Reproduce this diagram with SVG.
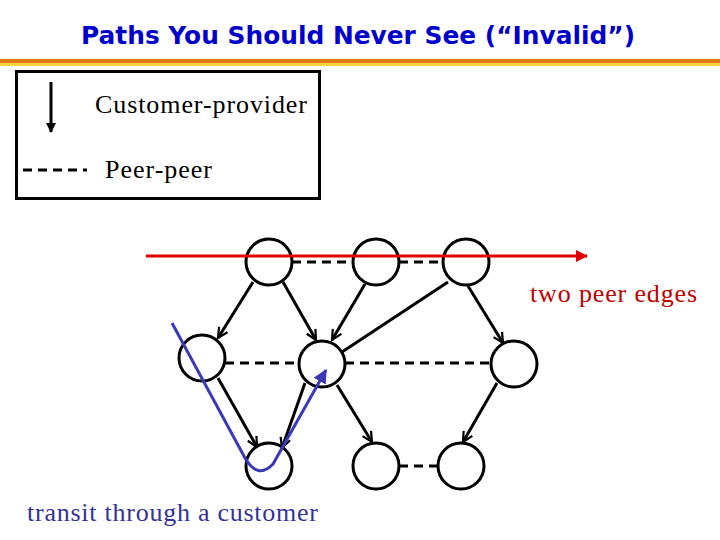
<svg xmlns="http://www.w3.org/2000/svg" width="720" height="540" viewBox="0 0 720 540">
<style>
.node{fill:#fff;stroke:#000;stroke-width:3}
.cp{stroke:#000;stroke-width:3;fill:none;marker-end:url(#open)}
.cpn{stroke:#000;stroke-width:3;fill:none}
.pp{stroke:#000;stroke-width:3;stroke-dasharray:9,6;fill:none}
.t{font-family:"Liberation Serif","Times New Roman",serif;font-size:26px}
</style>
<defs>
<marker id="open" viewBox="0 0 12 12" refX="11" refY="6" markerWidth="12" markerHeight="12" markerUnits="userSpaceOnUse" orient="auto">
<path d="M1,1 L11,6 L1,11" fill="none" stroke="#000" stroke-width="2.2"/>
</marker>
<marker id="solid" viewBox="0 0 10 10" refX="9" refY="5" markerWidth="10" markerHeight="10" markerUnits="userSpaceOnUse" orient="auto">
<path d="M0,0 L10,5 L0,10 Z" fill="#000"/>
</marker>
<marker id="red" viewBox="0 0 12 12" refX="11" refY="6" markerWidth="14" markerHeight="12" markerUnits="userSpaceOnUse" orient="auto">
<path d="M0,0 L12,6 L0,12 Z" fill="#e00000"/>
</marker>
<marker id="blue" viewBox="0 0 12 12" refX="11" refY="6" markerWidth="14" markerHeight="14" markerUnits="userSpaceOnUse" orient="auto">
<path d="M0,0 L12,6 L0,12 Z" fill="#3a3ab8"/>
</marker>
</defs>
<g id="title">
<text x="358" y="44" text-anchor="middle" font-family="'DejaVu Sans',Verdana,sans-serif" font-weight="bold" font-size="24" fill="#0000cc" textLength="554" lengthAdjust="spacingAndGlyphs">Paths You Should Never See (“Invalid”)</text>
<rect x="0" y="59" width="720" height="4" fill="#e07a10"/>
<rect x="0" y="63" width="720" height="3" fill="#ffd040"/>
</g>
<g id="legend">
<rect x="16.5" y="71.5" width="303" height="127" fill="#fff" stroke="#000" stroke-width="3"/>
<line x1="51" y1="82" x2="51" y2="132" stroke="#000" stroke-width="3" marker-end="url(#solid)"/>
<text class="t" x="95" y="113" textLength="212">Customer-provider</text>
<line x1="23" y1="170" x2="87" y2="170" class="pp"/>
<text class="t" x="105" y="178" textLength="107">Peer-peer</text>
</g>
<g id="connectors">
<line class="pp" x1="292" y1="262" x2="353" y2="262"/>
<line class="pp" x1="399" y1="262" x2="443" y2="262"/>
<line class="pp" x1="225" y1="363" x2="300" y2="363"/>
<line class="pp" x1="345" y1="363" x2="492" y2="363"/>
<line class="pp" x1="399" y1="466" x2="438" y2="466"/>
<line class="cp" x1="253" y1="282" x2="218" y2="338"/>
<line class="cp" x1="283" y1="282" x2="316" y2="340"/>
<line class="cp" x1="365" y1="284" x2="332" y2="340"/>
<line class="cpn" x1="448" y1="282" x2="342" y2="352"/>
<line class="cp" x1="468" y1="286" x2="503" y2="343"/>
<line class="cp" x1="218" y1="378" x2="257" y2="447"/>
<line class="cp" x1="305" y1="383" x2="282" y2="448"/>
<line class="cp" x1="337" y1="385" x2="372" y2="442"/>
<line class="cp" x1="497" y1="383" x2="463" y2="442"/>
</g>
<g id="n1"><circle class="node" cx="269" cy="262" r="23"/></g>
<g id="n2"><circle class="node" cx="376" cy="262" r="23"/></g>
<g id="n3"><circle class="node" cx="466" cy="262" r="23"/></g>
<g id="n4"><circle class="node" cx="202" cy="358" r="23"/></g>
<g id="n5"><circle class="node" cx="322" cy="364" r="23"/></g>
<g id="n6"><circle class="node" cx="514" cy="364" r="23"/></g>
<g id="n7"><circle class="node" cx="269" cy="466" r="23"/></g>
<g id="n8"><circle class="node" cx="376" cy="466" r="23"/></g>
<g id="n9"><circle class="node" cx="461" cy="466" r="23"/></g>
<g id="paths">
<line x1="146" y1="256" x2="587" y2="256" stroke="#e00000" stroke-width="3" marker-end="url(#red)"/>
<text class="t" x="530" y="302" fill="#c00000" textLength="167">two peer edges</text>
<path d="M172,323 L245,458 Q258,480 273,464 L326,370" fill="none" stroke="#3a3ab8" stroke-width="3" marker-end="url(#blue)"/>
<text class="t" x="27" y="521" fill="#333399" textLength="291">transit through a customer</text>
</g>
</svg>
